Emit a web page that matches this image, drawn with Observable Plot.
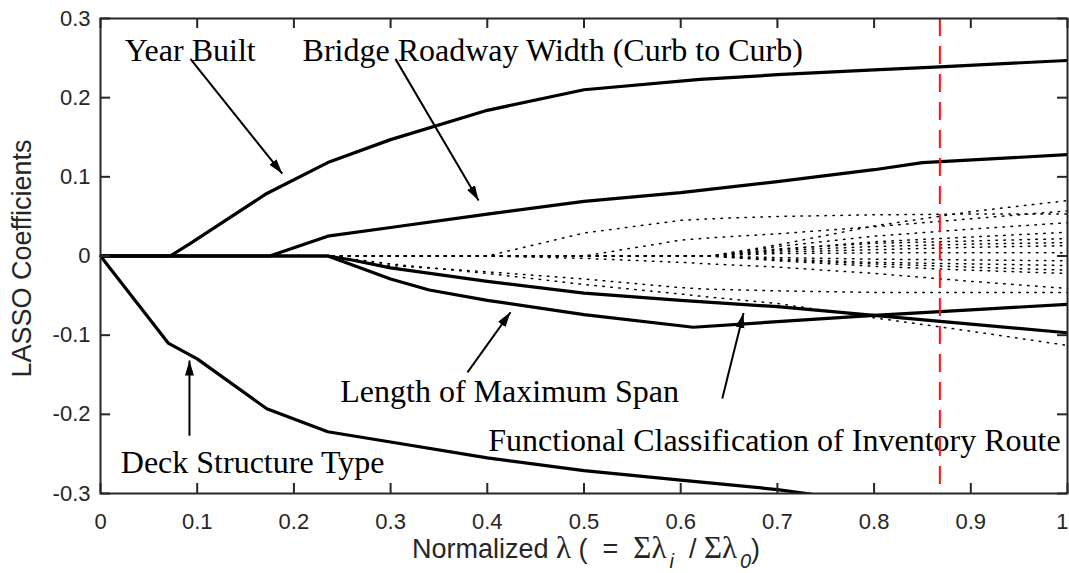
<!DOCTYPE html>
<html><head><meta charset="utf-8">
<script src="https://cdn.jsdelivr.net/npm/d3@7"></script>
<script src="https://cdn.jsdelivr.net/npm/@observablehq/plot@0.6"></script>
<style>body{margin:0;background:#fff}</style>
</head><body><div id="chart"></div>
<script>
// ---------- axes ----------
const xTicks = [0, 0.1, 0.2, 0.3, 0.4, 0.5, 0.6, 0.7, 0.8, 0.9, 1];
const xTickLabels = ["0", "0.1", "0.2", "0.3", "0.4", "0.5", "0.6", "0.7", "0.8", "0.9", "1"];
const yTicks = [-0.3, -0.2, -0.1, 0, 0.1, 0.2, 0.3];
const yTickLabels = ["-0.3", "-0.2", "-0.1", "0", "0.1", "0.2", "0.3"];

// ---------- highlighted coefficient paths ----------
const yearBuiltX = [0, 0.072, 0.093, 0.172, 0.235, 0.3, 0.4, 0.5, 0.62, 0.7, 0.8, 0.868, 1.0];
const yearBuiltY = [0, 0, 0.016, 0.079, 0.118, 0.147, 0.184, 0.21, 0.223, 0.229, 0.235, 0.239, 0.247];

const roadwayX = [0, 0.175, 0.235, 0.3, 0.4, 0.5, 0.6, 0.7, 0.8, 0.85, 1.0];
const roadwayY = [0, 0, 0.025, 0.036, 0.053, 0.069, 0.080, 0.094, 0.109, 0.118, 0.128];

const deckX = [0, 0.07, 0.1, 0.172, 0.235, 0.3, 0.4, 0.5, 0.6, 0.7, 0.736];
const deckY = [0, -0.11, -0.13, -0.193, -0.222, -0.235, -0.255, -0.271, -0.283, -0.295, -0.301];

const spanX = [0, 0.235, 0.262, 0.3, 0.34, 0.4, 0.5, 0.613, 0.7, 0.8, 0.9, 1.0];
const spanY = [0, 0, -0.012, -0.029, -0.043, -0.056, -0.074, -0.090, -0.083, -0.075, -0.068, -0.061];

const routeX = [0, 0.235, 0.26, 0.3, 0.4, 0.5, 0.6, 0.7, 0.8, 0.9, 1.0];
const routeY = [0, 0, -0.005, -0.015, -0.032, -0.047, -0.056, -0.064, -0.075, -0.086, -0.097];

// ---------- other (dotted) coefficient paths, sampled on a common lambda grid ----------
const dottedGrid = [0, 0.235, 0.3, 0.4, 0.5, 0.6, 0.63, 0.7, 0.8, 0.9, 1.0];
const dotted01 = [0, 0, 0, 0, 0, 0, 0, 0.014, 0.038, 0.056, 0.070];
const dotted02 = [0, 0, 0, 0, 0, 0.020, 0.023, 0.028, 0.037, 0.047, 0.057];
const dotted03 = [0, 0, 0, 0, 0.029, 0.045, 0.047, 0.050, 0.052, 0.053, 0.053];
const dotted04 = [0, 0, 0, 0, 0, 0, 0, 0.012, 0.025, 0.034, 0.042];
const dotted05 = [0, 0, 0, 0, 0, 0, 0, 0.008, 0.018, 0.024, 0.030];
const dotted06 = [0, 0, 0, 0, 0, 0, 0, 0.009, 0.016, 0.019, 0.022];
const dotted07 = [0, 0, 0, 0, 0, 0, 0, 0.007, 0.012, 0.015, 0.017];
const dotted08 = [0, 0, 0, 0, 0, 0, 0, 0.005, 0.008, 0.011, 0.013];
const dotted09 = [0, 0, 0, 0, 0, 0, 0, 0.003, 0.004, 0.004, 0.004];
const dotted10 = [0, 0, 0, 0, 0, 0, 0, -0.002, -0.004, -0.005, -0.006];
const dotted11 = [0, 0, 0, 0, 0, 0, 0, -0.004, -0.008, -0.010, -0.012];
const dotted12 = [0, 0, 0, 0, 0, 0, 0, -0.005, -0.010, -0.014, -0.018];
const dotted13 = [0, 0, 0, 0, 0, 0, 0, -0.006, -0.013, -0.018, -0.022];
const dotted14 = [0, 0, 0, 0, -0.003, -0.008, -0.010, -0.014, -0.022, -0.032, -0.041];
const dotted15 = [0, 0, -0.012, -0.020, -0.029, -0.040, -0.042, -0.044, -0.046, -0.046, -0.046];
const dotted16 = [0, 0, -0.010, -0.022, -0.036, -0.048, -0.052, -0.060, -0.078, -0.095, -0.113];
const dottedAll = [dotted01, dotted02, dotted03, dotted04, dotted05, dotted06, dotted07, dotted08,
  dotted09, dotted10, dotted11, dotted12, dotted13, dotted14, dotted15, dotted16];

// ---------- selected lambda ----------
const selectedLambda = [0.868];

// ---------- annotations ----------
const labelTexts = ["Year Built", "Bridge Roadway Width (Curb to Curb)", "Length of Maximum Span",
  "Functional Classification of Inventory Route", "Deck Structure Type"];
const labelX = [0.025, 0.209, 0.248, 0.401, 0.021];
const labelY = [0.2468, 0.2468, -0.184, -0.2468, -0.274];

const arrowX1 = [0.093, 0.305, 0.092, 0.3795, 0.643];
const arrowY1 = [0.249, 0.249, -0.227, -0.147, -0.180];
const arrowX2 = [0.188, 0.391, 0.092, 0.424, 0.665];
const arrowY2 = [0.104, 0.070, -0.132, -0.071, -0.072];

// ---------- build tables ----------
const solidCurves = [[yearBuiltX, yearBuiltY], [roadwayX, roadwayY], [deckX, deckY], [spanX, spanY], [routeX, routeY]]
  .flatMap(([xs, ys], k) => xs.map((x, i) => ({k, x, y: ys[i]})));
const dottedCurves = dottedAll.flatMap((ys, k) => dottedGrid.map((x, i) => ({k, x, y: ys[i]})));
const labels = labelTexts.map((t, i) => ({t, x: labelX[i], y: labelY[i]}));
const arrows = arrowX1.map((x1, i) => ({x1, y1: arrowY1[i], x2: arrowX2[i], y2: arrowY2[i]}));

const W = 1069, H = 573, mL = 100, mR = 2, mT = 18, mB = 80;
const plotW = W - mL - mR, plotH = H - mT - mB;
const axisColor = "#262626";
const lastTick = xTicks.length - 1;

const chart = Plot.plot({
  width: W, height: H,
  marginLeft: mL, marginRight: mR, marginTop: mT, marginBottom: mB,
  style: {fontFamily: "'Liberation Sans', Arial, sans-serif", background: "white", color: axisColor},
  x: {domain: [0, 1]},
  y: {domain: [-0.3, 0.3]},
  marks: [
    Plot.line(dottedCurves, {x: "x", y: "y", z: "k", stroke: "black", strokeWidth: 1.5, strokeDasharray: "1.5,6.5"}),
    Plot.line(solidCurves, {x: "x", y: "y", z: "k", stroke: "black", strokeWidth: 3.2, clip: true}),
    Plot.link(arrows, {x1: "x1", y1: "y1", x2: "x2", y2: "y2", stroke: "black", strokeWidth: 2}),
    Plot.text(labels, {x: "x", y: "y", text: "t", textAnchor: "start", lineAnchor: "bottom",
      fontFamily: "'Liberation Serif', 'Times New Roman', serif", fontSize: 32, fill: "black"}),
    Plot.ruleX(selectedLambda, {stroke: "#ff1010", strokeWidth: 2, strokeDasharray: "18,10"}),
    Plot.frame({stroke: axisColor, strokeWidth: 2}),
    Plot.tickX(xTicks, {x: d => d, insetTop: plotH - 10, stroke: axisColor, strokeWidth: 2}),
    Plot.tickX(xTicks, {x: d => d, insetBottom: plotH - 10, stroke: axisColor, strokeWidth: 2}),
    Plot.tickY(yTicks, {y: d => d, insetRight: plotW - 10, stroke: axisColor, strokeWidth: 2}),
    Plot.tickY(yTicks, {y: d => d, insetLeft: plotW - 10, stroke: axisColor, strokeWidth: 2}),
    Plot.axisX({ticks: xTicks.slice(0, lastTick), tickSize: 0, tickPadding: 20,
      tickFormat: (d, i) => xTickLabels[i], fontSize: 22, label: null}),
    Plot.axisX({ticks: xTicks.slice(lastTick), tickSize: 0, tickPadding: 20, textAnchor: "end", dx: 1,
      tickFormat: () => xTickLabels[lastTick], fontSize: 22, label: null}),
    Plot.axisY({ticks: yTicks, tickSize: 0, tickPadding: 10, tickFormat: (d, i) => yTickLabels[i], fontSize: 22, label: null})
  ]
});

// filled arrowheads for annotation arrows
const svg = d3.select(chart);
svg.append("defs").append("marker")
  .attr("id", "ahead").attr("viewBox", "-15 -5 15 10")
  .attr("refX", 0).attr("refY", 0)
  .attr("markerWidth", 15).attr("markerHeight", 10)
  .attr("markerUnits", "userSpaceOnUse").attr("orient", "auto")
  .append("path").attr("d", "M-15,-4.5L0,0L-15,4.5Z").attr("fill", "black");
svg.selectAll('g[aria-label="link"] path').attr("marker-end", "url(#ahead)");

// axis titles
const sans = "'Liberation Sans', Arial, sans-serif";
const serif = "'Liberation Serif', 'Times New Roman', serif";
svg.append("text")
  .attr("transform", `translate(31,${mT + plotH / 2 + 3}) rotate(-90)`)
  .attr("text-anchor", "middle").attr("font-family", sans).attr("font-size", 27).attr("fill", axisColor)
  .text("LASSO Coefficients");
const xl = svg.append("text")
  .attr("x", 412).attr("y", 558)
  .attr("text-anchor", "start").attr("font-family", sans).attr("font-size", 27).attr("fill", axisColor)
  .attr("xml:space", "preserve");
xl.append("tspan").text("Normalized ");
xl.append("tspan").attr("font-family", serif).attr("font-size", 31).text("λ");
xl.append("tspan").text(" (  =  ");
xl.append("tspan").attr("font-family", serif).attr("font-size", 31).text("Σλ");
xl.append("tspan").attr("dx", 3).attr("dy", 10).attr("font-size", 20).attr("font-style", "italic").text("i");
xl.append("tspan").attr("dy", -10).text("  / ");
xl.append("tspan").attr("font-family", serif).attr("font-size", 31).text("Σλ");
xl.append("tspan").attr("dx", 3).attr("dy", 10).attr("font-size", 20).attr("font-style", "italic").text("0");
xl.append("tspan").attr("dy", -10).text(")");

document.getElementById("chart").appendChild(chart);
</script>
</body></html>
